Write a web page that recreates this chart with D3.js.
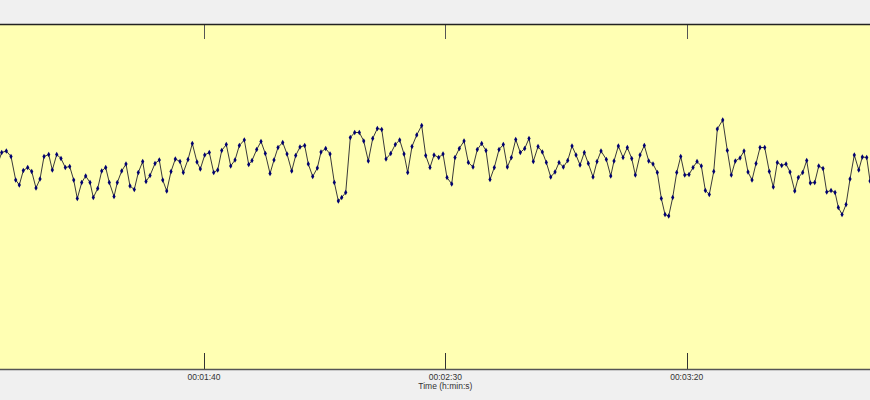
<!DOCTYPE html>
<html><head><meta charset="utf-8">
<script src="https://cdn.jsdelivr.net/npm/d3@7"></script>
<style>
html,body{margin:0;padding:0;background:#f0f0f0;}
svg{display:block;}
</style></head>
<body>
<svg id="chart" width="870" height="400"></svg>
<script>
// Beat times (s) and RR-interval-like values (ms)
const times = [57.2,58.09,59.05,60.02,60.99,61.74,62.57,63.48,64.31,65.20,66.03,66.86,67.83,68.58,69.49,70.38,71.27,72.18,73.01,73.75,74.67,75.49,76.39,77.07,77.98,78.81,79.64,80.38,81.36,82.04,82.95,83.84,84.67,85.56,86.39,87.30,87.99,88.82,
89.85,90.74,91.45,92.28,93.17,94.06,95.03,95.71,96.69,97.58,98.55,99.24,100.15,101.10,102.01,102.84,103.67,104.62,105.53,106.43,107.32,108.35,109.26,109.95,110.92,111.81,112.70,113.68,114.50,115.33,116.31,117.20,118.17,119.00,119.89,
120.86,121.61,122.52,123.48,124.24,125.21,126.11,127.00,127.83,128.53,129.36,130.31,131.22,132.18,133.09,134.04,134.95,135.91,136.82,137.71,138.68,139.63,140.54,141.44,142.20,143.09,144.07,145.10,145.93,146.82,147.65,148.62,149.52,150.34,
151.32,152.00,152.89,153.87,154.76,155.73,156.62,157.53,158.42,159.25,160.14,161.12,162.01,162.84,163.67,164.58,165.53,166.44,167.33,168.22,169.20,170.09,170.92,171.83,172.72,173.55,174.44,175.35,176.24,177.07,177.90,178.79,179.62,180.59,181.42,182.25,
183.35,184.26,184.94,185.84,186.81,187.70,188.61,189.36,190.33,191.22,192.13,193.02,193.91,194.74,195.51,196.27,197.10,197.93,198.76,199.59,200.48,201.31,202.14,203.03,203.86,204.68,205.60,206.34,207.46,208.41,209.24,210.07,211.05,211.87,212.70,
213.53,214.36,215.19,216.16,217.11,217.94,218.77,219.68,220.58,221.40,222.38,223.12,224.03,224.86,225.61,226.52,227.35,228.24,229.01,229.90,230.73,231.41,232.18,233.01,233.83,234.72,235.64,236.38,237.29,237.98,238.9];
const values = [860,885,888,877,830,820,849,855,847,814,832,877,881,850,881,873,855,857,830,793,825,838,825,795,813,848,855,825,797,825,848,862,818,811,845,867,827,839,
863,870,830,808,847,872,867,845,871,903,866,852,880,885,845,850,889,901,858,870,899,910,861,869,891,907,883,843,870,895,905,882,848,879,896,
899,862,837,854,886,893,882,825,788,795,805,915,925,925,908,868,913,933,931,872,883,901,910,882,845,897,920,939,879,855,880,875,882,835,
822,875,893,908,865,856,891,903,889,831,855,891,901,856,875,911,885,893,913,867,897,886,865,836,846,865,856,869,898,880,860,885,863,836,867,888,
871,838,868,898,875,895,873,840,880,899,868,862,845,793,761,758,795,845,877,840,841,855,867,858,809,801,847,932,950,889,840,868,874,888,846,
830,863,895,895,847,816,865,859,862,846,808,835,845,869,824,825,858,853,806,809,805,775,761,781,832,880,850,876,875,828,835];
const tickTimes = [100,150,200];
const tickLabels = ["00:01:40","00:02:30","00:03:20"];
const xTitle = "Time (h:min:s)";

const svg = d3.select("#chart");
const pLeft = 0, pRight = 870, pTop = 24, pBottom = 369;
const x = d3.scaleLinear().domain([57.74, 237.97]).range([pLeft, pRight]);
const y = d3.scaleLinear().domain([452, 1142]).range([pBottom, pTop]);

svg.append("rect").attr("x",pLeft).attr("y",pTop).attr("width",pRight-pLeft).attr("height",pBottom-pTop).attr("fill","#ffffb3");

svg.append("defs").append("clipPath").attr("id","clip")
  .append("rect").attr("x",pLeft).attr("y",pTop).attr("width",pRight-pLeft).attr("height",pBottom-pTop);

// ticks (inward) top and bottom
const g = svg.append("g");
g.selectAll("line.tt").data(tickTimes).join("line").attr("class","tt")
  .attr("x1",d=>Math.round(x(d))+0.5).attr("x2",d=>Math.round(x(d))+0.5)
  .attr("y1",pTop).attr("y2",pTop+15).attr("stroke","#555").attr("stroke-width",1);
g.selectAll("line.bt").data(tickTimes).join("line").attr("class","bt")
  .attr("x1",d=>Math.round(x(d))+0.5).attr("x2",d=>Math.round(x(d))+0.5)
  .attr("y1",pBottom-16).attr("y2",pBottom).attr("stroke","#333").attr("stroke-width",1);

// borders
svg.append("line").attr("x1",pLeft).attr("x2",pRight).attr("y1",pTop+0.5).attr("y2",pTop+0.5).attr("stroke","#222").attr("stroke-width",1.3);
svg.append("line").attr("x1",pLeft).attr("x2",pRight).attr("y1",pBottom+0.5).attr("y2",pBottom+0.5).attr("stroke","#555").attr("stroke-width",1.3);

// labels
svg.selectAll("text.tl").data(tickTimes).join("text").attr("class","tl")
  .attr("x",(d)=>x(d)).attr("y",pBottom+11).attr("text-anchor","middle")
  .attr("font-family","Liberation Sans, Arial, sans-serif").attr("font-size","8.5px").attr("fill","#333")
  .text((d,i)=>tickLabels[i]);
svg.append("text").attr("x",x(150)).attr("y",pBottom+20).attr("text-anchor","middle")
  .attr("font-family","Liberation Sans, Arial, sans-serif").attr("font-size","8.5px").attr("fill","#333")
  .text(xTitle);

// series
const data = times.map((t,i)=>({t, v: values[i]}));
const plot = svg.append("g").attr("clip-path","url(#clip)");
plot.append("path").datum(data)
  .attr("d", d3.line().x(d=>x(d.t)).y(d=>y(d.v)))
  .attr("fill","none").attr("stroke","#3a3a3a").attr("stroke-width",1);
plot.selectAll("path.m").data(data).join("path").attr("class","m")
  .attr("transform",d=>`translate(${x(d.t)},${y(d.v)})`)
  .attr("d", d3.symbol().type(d3.symbolDiamond).size(9))
  .attr("fill","#000070");
</script>
</body></html>
